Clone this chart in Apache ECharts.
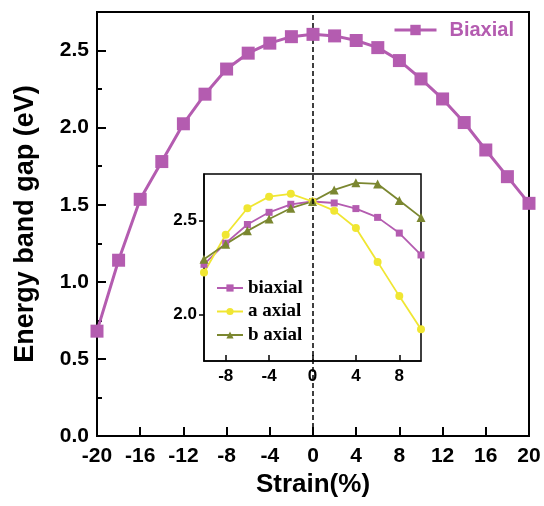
<!DOCTYPE html>
<html>
<head>
<meta charset="utf-8">
<script src="https://cdn.jsdelivr.net/npm/echarts@6/dist/echarts.min.js"></script>
<style>html,body{margin:0;padding:0;background:#fff;}#c{width:544px;height:506px;}</style>
</head>
<body>
<div id="c"></div>
<script>
// ---- data ----
var strainMain = [-20,-18,-16,-14,-12,-10,-8,-6,-4,-2,0,2,4,6,8,10,12,14,16,18,20];
var biaxialMain = [0.68,1.14,1.535,1.78,2.025,2.217,2.38,2.483,2.548,2.59,2.605,2.595,2.565,2.519,2.435,2.316,2.186,2.033,1.855,1.682,1.509];

var strainInset = [-10,-8,-6,-4,-2,0,2,4,6,8,10];
var biaxialInset = [2.267,2.38,2.48,2.545,2.588,2.603,2.595,2.565,2.518,2.434,2.317];
var aAxialInset  = [2.223,2.425,2.567,2.629,2.644,2.603,2.554,2.461,2.28,2.097,1.92];
var bAxialInset  = [2.294,2.375,2.446,2.509,2.567,2.603,2.665,2.703,2.697,2.608,2.518];

var mainXTicks = [-20,-16,-12,-8,-4,0,4,8,12,16,20];
var mainYTicks = [0,0.5,1.0,1.5,2.0,2.5];
var mainYMinorTicks = [0.25,0.75,1.25,1.75,2.25];
var insetXTicks = [-8,-4,0,4,8];
var insetYTicks = [2.0,2.5];

var purple = '#b45cb0', yellow = '#f0e632', olive = '#7b8730';

function pairs(xs, ys){ return xs.map(function(x,i){ return [x, ys[i]]; }); }

var sans = 'Liberation Sans, Arial, sans-serif';
var serif = 'Liberation Serif, Times New Roman, serif';

var chart = echarts.init(document.getElementById('c'));
chart.setOption({
  animation: false,
  backgroundColor: '#fff',
  grid: [
    {left: 97, right: 15, top: 12, bottom: 70, show: true, borderColor: '#000', borderWidth: 2, containLabel: false},
    {left: 204, right: 123, top: 174, bottom: 145, show: true, borderColor: '#000', borderWidth: 1.5, containLabel: false}
  ],
  xAxis: [
    {type: 'value', gridIndex: 0, min: -20, max: 20, interval: 4,
     name: 'Strain(%)', nameLocation: 'middle', nameGap: 34,
     nameTextStyle: {fontFamily: sans, fontWeight: 'bold', fontSize: 26, color: '#000'},
     axisLine: {show: true, onZero: false, lineStyle: {color: '#000', width: 2}},
     axisTick: {show: true, inside: true, length: 9, lineStyle: {color: '#000', width: 2}, customValues: mainXTicks},
     axisLabel: {color: '#000', fontFamily: sans, fontWeight: 'bold', fontSize: 21, margin: 10, customValues: mainXTicks},
     splitLine: {show: false}},
    {type: 'value', gridIndex: 1, min: -10, max: 10,
     axisLine: {show: true, onZero: false, lineStyle: {color: '#000', width: 1.5}},
     axisTick: {show: true, inside: true, length: 6, lineStyle: {color: '#000', width: 1.5}, customValues: insetXTicks},
     axisLabel: {color: '#000', fontFamily: sans, fontWeight: 'bold', fontSize: 17, margin: 7, customValues: insetXTicks},
     splitLine: {show: false}}
  ],
  yAxis: [
    {type: 'value', gridIndex: 0, min: 0, max: 2.75,
     name: 'Energy band gap (eV)', nameLocation: 'middle', nameGap: 58,
     nameTextStyle: {fontFamily: sans, fontWeight: 'bold', fontSize: 27, color: '#000'},
     axisLine: {show: true, onZero: false, lineStyle: {color: '#000', width: 2}},
     axisTick: {show: true, inside: true, length: 9, lineStyle: {color: '#000', width: 2}, customValues: mainYTicks},
     axisLabel: {color: '#000', fontFamily: sans, fontWeight: 'bold', fontSize: 21, margin: 8, customValues: mainYTicks,
                 formatter: function(v){ return v.toFixed(1); }},
     splitLine: {show: false}},
    {type: 'value', gridIndex: 0, min: 0, max: 2.75, position: 'left',
     axisLine: {show: false, onZero: false},
     axisTick: {show: true, inside: true, length: 5, lineStyle: {color: '#000', width: 2}, customValues: mainYMinorTicks},
     axisLabel: {show: false},
     splitLine: {show: false}},
    {type: 'value', gridIndex: 1, min: 1.75, max: 2.75,
     axisLine: {show: true, onZero: false, lineStyle: {color: '#000', width: 1.5}},
     axisTick: {show: true, inside: false, length: 5, lineStyle: {color: '#000', width: 1.5}, customValues: insetYTicks},
     axisLabel: {color: '#000', fontFamily: sans, fontWeight: 'bold', fontSize: 17, margin: 7, customValues: insetYTicks,
                 formatter: function(v){ return v.toFixed(1); }},
     splitLine: {show: false}}
  ],
  legend: [
    {data: ['Biaxial'], left: 393, top: 20, padding: 0, itemWidth: 42, itemHeight: 13,
     lineStyle: {width: 3},
     textStyle: {color: purple, fontFamily: sans, fontWeight: 'bold', fontSize: 20, padding: [0,0,0,8]}},
    {data: ['biaxial','a axial','b axial'], orient: 'vertical', left: 216, top: 278, padding: 0,
     itemGap: 3.5, itemWidth: 26, itemHeight: 9, lineStyle: {width: 2},
     textStyle: {color: '#000', fontFamily: serif, fontWeight: 'bold', fontSize: 19, lineHeight: 20}}
  ],
  series: [
    {name: 'Biaxial', type: 'line', xAxisIndex: 0, yAxisIndex: 0, data: pairs(strainMain, biaxialMain),
     symbol: 'rect', symbolSize: 13, itemStyle: {color: purple}, lineStyle: {color: purple, width: 3},
     markLine: {silent: true, symbol: ['none','none'], label: {show: false},
                lineStyle: {color: '#000', type: [5,3], width: 1.5}, data: [{xAxis: 0}]}, z: 5},
    {name: 'biaxial', type: 'line', xAxisIndex: 1, yAxisIndex: 2, data: pairs(strainInset, biaxialInset),
     symbol: 'rect', symbolSize: 7, itemStyle: {color: purple}, lineStyle: {color: purple, width: 1.8}},
    {name: 'a axial', type: 'line', xAxisIndex: 1, yAxisIndex: 2, data: pairs(strainInset, aAxialInset),
     symbol: 'circle', symbolSize: 8, itemStyle: {color: yellow}, lineStyle: {color: yellow, width: 1.8}},
    {name: 'b axial', type: 'line', xAxisIndex: 1, yAxisIndex: 2, data: pairs(strainInset, bAxialInset),
     symbol: 'triangle', symbolSize: 9, itemStyle: {color: olive}, lineStyle: {color: olive, width: 1.8}}
  ]
});
</script>
</body>
</html>
